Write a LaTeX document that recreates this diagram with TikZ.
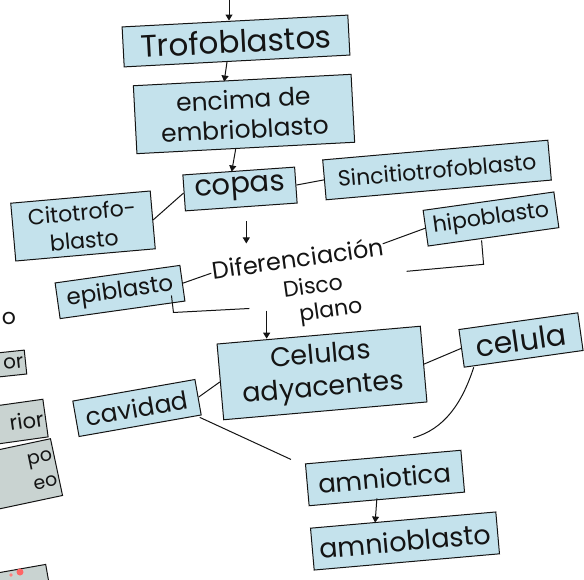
\documentclass[tikz,border=0pt]{standalone}
\usepackage{fontspec}
\setmainfont{Poppins}
\usetikzlibrary{arrows.meta,calc}
\definecolor{boxblue}{HTML}{C4E2EC}
\definecolor{boxgray}{HTML}{C9D3D1}
\definecolor{ink}{HTML}{141414}
\tikzset{
  box/.style={draw=ink, line width=1pt, fill=boxblue, inner sep=1.5pt, align=center, text=ink},
  gbox/.style={draw=ink, line width=1pt, fill=boxgray, inner sep=2pt, text=ink},
  plain/.style={align=center, text=ink, inner sep=1pt},
  link/.style={draw=ink, line width=1pt},
  arr/.style={draw=ink, line width=1pt, -{Triangle[length=6pt,width=7pt]}},
  fs/.style 2 args={font=\fontsize{#1}{#2}\selectfont},
}
\begin{document}
\begin{tikzpicture}[x=1pt,y=-1pt]
\useasboundingbox (0,0) rectangle (584,580);
\fill[white] (0,0) rectangle (584,580);
\clip (0,0) rectangle (584,580);

% main nodes
\node[box, fs={31}{34}, rotate=3, minimum width=226, minimum height=40] (tro) at (236,41) {Trofoblastos};
\node[box, fs={25}{30}, rotate=3, minimum width=218, minimum height=68] (enc) at (244,114) {encima de\\embrioblasto};
\node[box, fs={29}{32}, rotate=4, minimum width=112, minimum height=36] (cop) at (240,189) {copas};
\node[box, fs={22}{25}, rotate=5, minimum width=226, minimum height=40] (sin) at (437,170) {Sincitiotrofoblasto};
\node[box, fs={22}{28}, rotate=5, minimum width=140, minimum height=58] (cit) at (83,226) {Citotrofo-\\blasto};
\node[plain, fs={24}{26}, rotate=8] (dif) at (298,258) {Diferenciación};
\node[box, fs={22}{24}, rotate=8, minimum width=132, minimum height=36] (hip) at (491,219) {hipoblasto};
\node[box, fs={23}{25}, rotate=8, minimum width=126, minimum height=36] (epi) at (120,292) {epiblasto};
\node[plain, fs={22}{26}, rotate=8] (dis) at (315,301) {Disco\\\hspace*{1.3em}plano};
\node[box, fs={27}{33}, rotate=5, minimum width=204, minimum height=76] (cel) at (322,373) {Celulas\\adyacentes};
\node[box, fs={30}{32}, rotate=8, minimum width=120, minimum height=38] (clu) at (521,340) {celula};
\node[box, fs={25}{27}, rotate=10, minimum width=124, minimum height=36] (cav) at (137,408) {cavidad};
\node[box, fs={26}{28}, rotate=5, minimum width=156, minimum height=42] (amt) at (385,478) {amniotica};
\node[box, fs={27}{29}, rotate=5, minimum width=186, minimum height=42] (amb) at (405,541) {amnioblasto};

% left edge fragments
\node[plain, fs={22}{24}] (fa) at (9,318) {o};
\node[gbox, fs={20}{22}, rotate=6, anchor=east, minimum height=24, text width=50, align=right] (fb) at (26,362) {or};
\node[gbox, fs={21}{23}, rotate=8, anchor=east, minimum height=38, text width=70, align=right] (fc) at (46,418) {rior};
\node[gbox, fs={19}{26}, rotate=12, anchor=east, minimum height=58, text width=70, align=right] (fd) at (57,467) {po\\eo};
\node[gbox, rotate=10, anchor=east, minimum height=44, minimum width=70] (fe) at (50,586) {};
\fill[red!60!white] (20,572) circle (3.5pt);
\fill[red!50!white] (11,575) circle (1.8pt);

% connectors
\coordinate (top) at (229,0);
\draw[arr] (top) -- (tro.north -| top);
\draw[arr] ($(tro.south)+(-10,0)$) -- ($(enc.north)+(-18,2)$);
\draw[arr] ($(enc.south)+(-10,0)$) -- ($(cop.north)+(-7,1)$);
\draw[link] (cop.east) -- (sin.west);
\draw[link] (cit.east) -- (cop.west);
\draw[arr] ($(cop.south)+(5,14)$) -- ($(cop.south)+(5,36)$);
\draw[link] ($(dif.east)+(-2,-2)$) -- (hip.west);
\draw[link] (epi.east) -- ($(dif.west)+(0,3)$);
\coordinate (hb1) at ($(hip.south)+(-12,3)$);
\coordinate (hb2) at ($(hb1)+(2,24)$);
\coordinate (hb3) at ($(hb2)+(-77,7)$);
\draw[link] (hb1) -- (hb2) -- (hb3);
\coordinate (eb1) at ($(epi.south east)+(-14,-6)$);
\coordinate (eb2) at ($(eb1)+(2,17)$);
\coordinate (eb3) at ($(eb2)+(76,-4)$);
\draw[link] (eb1) -- (eb2) -- (eb3);
\draw[arr] ($(cel.north)+(-52,-24)$) -- ($(cel.north)+(-52,4)$);
\draw[link] (cel.east) -- (clu.west);
\draw[link] (cav.east) -- (cel.west);
\draw[link] ($(cav.south east)+(-2,2)$) -- ($(amt.north west)+(-14,-4)$);
\draw[link] ($(clu.south)+(-50,8)$) .. controls ($(clu.south)+(-62,45)$) and ($(clu.south)+(-80,70)$) .. ($(amt.north east)+(-48,-12)$);
\draw[arr] ($(amt.south)+(-10,-1)$) -- ($(amb.north)+(-28,3)$);
\end{tikzpicture}
\end{document}
